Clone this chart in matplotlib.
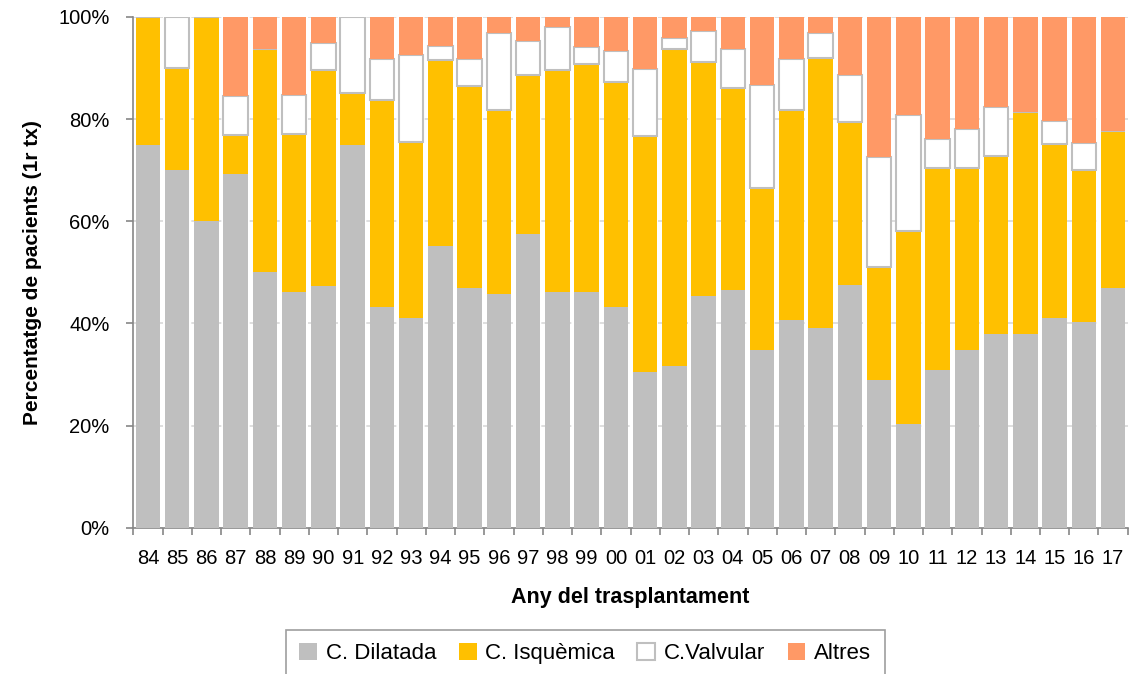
import matplotlib.pyplot as plt
import numpy as np

# category: year of transplant (2-digit)
years = ["84", "85", "86", "87", "88", "89", "90", "91", "92", "93", "94", "95",
         "96", "97", "98", "99", "00", "01", "02", "03", "04", "05", "06", "07",
         "08", "09", "10", "11", "12", "13", "14", "15", "16", "17"]

# percentage of patients per aetiology
dilatada = [75.0, 70.0, 60.0, 69.2, 50.0, 46.2, 47.4, 75.0, 43.3, 41.0, 55.1, 46.9,
            45.7, 57.4, 46.1, 46.1, 43.3, 30.5, 31.7, 45.3, 46.5, 34.8, 40.6, 39.1,
            47.5, 28.9, 20.4, 30.9, 34.7, 37.9, 37.9, 41.0, 40.2, 46.9]
isquemica = [25.0, 20.0, 40.0, 7.7, 43.75, 30.8, 42.1, 10.0, 40.4, 34.5, 36.5, 39.5,
             36.0, 31.3, 43.4, 44.7, 43.9, 46.1, 62.1, 45.8, 39.5, 31.7, 41.1, 52.8,
             31.9, 22.1, 37.6, 39.5, 35.7, 34.9, 43.4, 34.1, 29.8, 30.8]
valvular = [0.0, 10.0, 0.0, 7.7, 0.0, 7.7, 5.3, 15.0, 8.1, 17.0, 2.6, 5.4,
            15.1, 6.6, 8.5, 3.3, 6.1, 13.2, 2.0, 6.1, 7.7, 20.2, 10.0, 4.9,
            9.3, 21.6, 22.8, 5.7, 7.6, 9.5, 0.0, 4.6, 5.4, 0.0]
altres = [0.0, 0.0, 0.0, 15.4, 6.25, 15.4, 5.3, 0.0, 8.2, 7.5, 5.8, 8.2,
          3.2, 4.7, 2.0, 5.9, 6.7, 10.2, 4.2, 2.8, 6.3, 13.3, 8.3, 3.2,
          11.3, 27.4, 19.2, 23.9, 22.0, 17.7, 18.7, 20.3, 24.6, 22.3]

labels = ["C. Dilatada", "C. Isquèmica", "C.Valvular", "Altres"]
colors = ["#BFBFBF", "#FFC000", "#FFFFFF", "#FF9966"]

plt.rcParams["font.family"] = ["Liberation Sans", "DejaVu Sans"]

fig = plt.figure(figsize=(11.3, 6.74), dpi=100)
ax = fig.add_axes([0.118, 0.217, 0.88, 0.758])

x = np.arange(len(years))
width = 0.84
bottom = np.zeros(len(years))
for vals, lab, col in zip([dilatada, isquemica, valvular, altres], labels, colors):
    vals = np.array(vals)
    if lab == "C.Valvular":
        ax.bar(x, vals, width, bottom=bottom, color=col, edgecolor="#BFBFBF",
               linewidth=1.5, label=lab, zorder=3)
    else:
        ax.bar(x, vals, width, bottom=bottom, color=col, linewidth=0,
               label=lab, zorder=3)
    bottom += vals

ax.set_xlim(-0.5, len(years) - 0.5)
ax.set_ylim(0, 100)
ax.set_yticks(np.arange(0, 101, 20))
ax.set_yticklabels(["{}%".format(v) for v in range(0, 101, 20)])
ax.set_xticks(x)
ax.set_xticklabels(years)
ax.set_xticks(np.arange(-0.5, len(years), 1), minor=True)
ax.tick_params(axis="x", which="major", length=0, pad=15, labelsize=14.5)
ax.tick_params(axis="x", which="minor", length=5, color="#868686", width=1.2)
ax.tick_params(axis="y", length=5, color="#868686", width=1.2, labelsize=14.5, pad=12)

ax.yaxis.grid(True, color="#D9D9D9", linestyle=(0, (4, 3)), linewidth=1.2, zorder=0)
ax.set_axisbelow(True)
for s in ["top", "right"]:
    ax.spines[s].set_visible(False)
for s in ["left", "bottom"]:
    ax.spines[s].set_color("#868686")
    ax.spines[s].set_linewidth(1.2)

ax.set_xlabel("Any del trasplantament", fontsize=15.5, fontweight="bold", labelpad=14)
ax.set_ylabel("Percentatge de pacients (1r tx)", fontsize=15, fontweight="bold", labelpad=12)

leg = fig.legend(loc="center", bbox_to_anchor=(0.518, 0.03), ncols=4, fontsize=16,
                 frameon=True, fancybox=False, edgecolor="#868686",
                 handlelength=0.8, handleheight=0.8, handletextpad=0.4,
                 columnspacing=1.0, borderpad=0.6, borderaxespad=0)
leg.get_frame().set_linewidth(1.2)

fig.savefig("out.png", dpi=100)
